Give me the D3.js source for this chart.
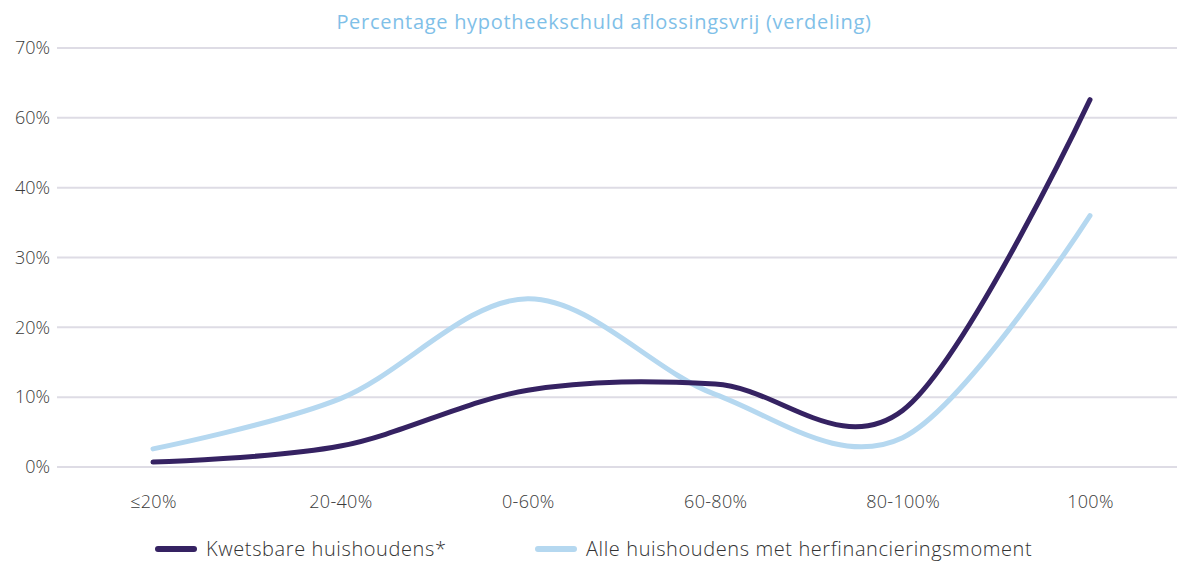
<!DOCTYPE html>
<html>
<head>
<meta charset="utf-8">
<script src="https://cdn.jsdelivr.net/npm/d3@7"></script>
<style>
  html, body { margin: 0; padding: 0; background: #ffffff; }
  svg { display: block; font-family: "Open Sans", Lato, sans-serif; }
</style>
</head>
<body>
<svg id="chart" width="1179" height="563"></svg>
<script>
// ---- data ----
const title = "Percentage hypotheekschuld aflossingsvrij (verdeling)";
const categories = ["≤20%", "20-40%", "0-60%", "60-80%", "80-100%", "100%"];
const kwetsbare = [0.7, 3.0, 11.0, 11.9, 8.1, 52.6];
const alle = [2.6, 9.8, 24.1, 10.4, 4.2, 36.0];
const tickValues = [0, 10, 20, 30, 40, 50, 60];
const tickLabels = ["0%", "10%", "20%", "30%", "40%", "60%", "70%"];
const seriesNames = ["Kwetsbare huishoudens*", "Alle huishoudens met herfinancieringsmoment"];

// ---- layout ----
const W = 1179, H = 563;
const gridLeft = 57, gridRight = 1177;
const colors = ["#352262", "#b5d8f0"];
const FONT = "'Open Sans', Lato, sans-serif";

const svg = d3.select("#chart");

const x = d3.scalePoint().domain(categories).range([153, 1090]);
const y = d3.scaleLinear().domain([0, 60]).range([467, 48]);

// gridlines
svg.append("g").selectAll("line").data(tickValues).join("line")
  .attr("x1", gridLeft).attr("x2", gridRight)
  .attr("y1", d => y(d)).attr("y2", d => y(d))
  .attr("stroke", "#dedce5").attr("stroke-width", 2);

// y axis labels
const yAxis = d3.axisLeft(y).tickValues(tickValues)
  .tickFormat((d, i) => tickLabels[i]).tickSize(0).tickPadding(0);
const gy = svg.append("g").attr("transform", "translate(50,0)").call(yAxis);
gy.select(".domain").remove();
gy.selectAll("text").attr("font-size", 18).attr("font-weight", 300)
  .attr("fill", "#3a3a3a").attr("font-family", FONT);

// x axis labels
const xAxis = d3.axisBottom(x).tickSize(0).tickPadding(0);
const gx = svg.append("g").attr("transform", "translate(0,495)").call(xAxis);
gx.select(".domain").remove();
gx.selectAll("text").attr("font-size", 18).attr("font-weight", 300)
  .attr("fill", "#3a3a3a").attr("font-family", FONT)
  .attr("letter-spacing", 0.3);

// title
svg.append("text").attr("x", 604).attr("y", 29)
  .attr("text-anchor", "middle").attr("font-size", 20).attr("font-weight", 400)
  .attr("font-family", FONT).attr("letter-spacing", 0.7)
  .attr("fill", "#7fc0e8").text(title);

// lines
const line = d3.line()
  .x((d, i) => x(categories[i]))
  .y(d => y(d))
  .curve(d3.curveCardinal.tension(0));

[alle, kwetsbare].forEach((s, k) => {
  svg.append("path").datum(s)
    .attr("d", line)
    .attr("fill", "none")
    .attr("stroke", k === 0 ? colors[1] : colors[0])
    .attr("stroke-width", 5)
    .attr("stroke-linecap", "round")
    .attr("stroke-linejoin", "round");
});

// legend
const legendItems = [
  { name: seriesNames[0], color: colors[0], x: 158 },
  { name: seriesNames[1], color: colors[1], x: 538 }
];
const lg = svg.append("g").selectAll("g").data(legendItems).join("g")
  .attr("transform", d => `translate(${d.x},549)`);
lg.append("line").attr("x1", 0).attr("x2", 36).attr("y1", 0).attr("y2", 0)
  .attr("stroke", d => d.color).attr("stroke-width", 6).attr("stroke-linecap", "round");
lg.append("text").attr("x", 48).attr("y", 7)
  .attr("font-size", 20).attr("font-weight", 300).attr("fill", "#333")
  .attr("font-family", FONT).attr("letter-spacing", 0.6)
  .text(d => d.name);
</script>
</body>
</html>
